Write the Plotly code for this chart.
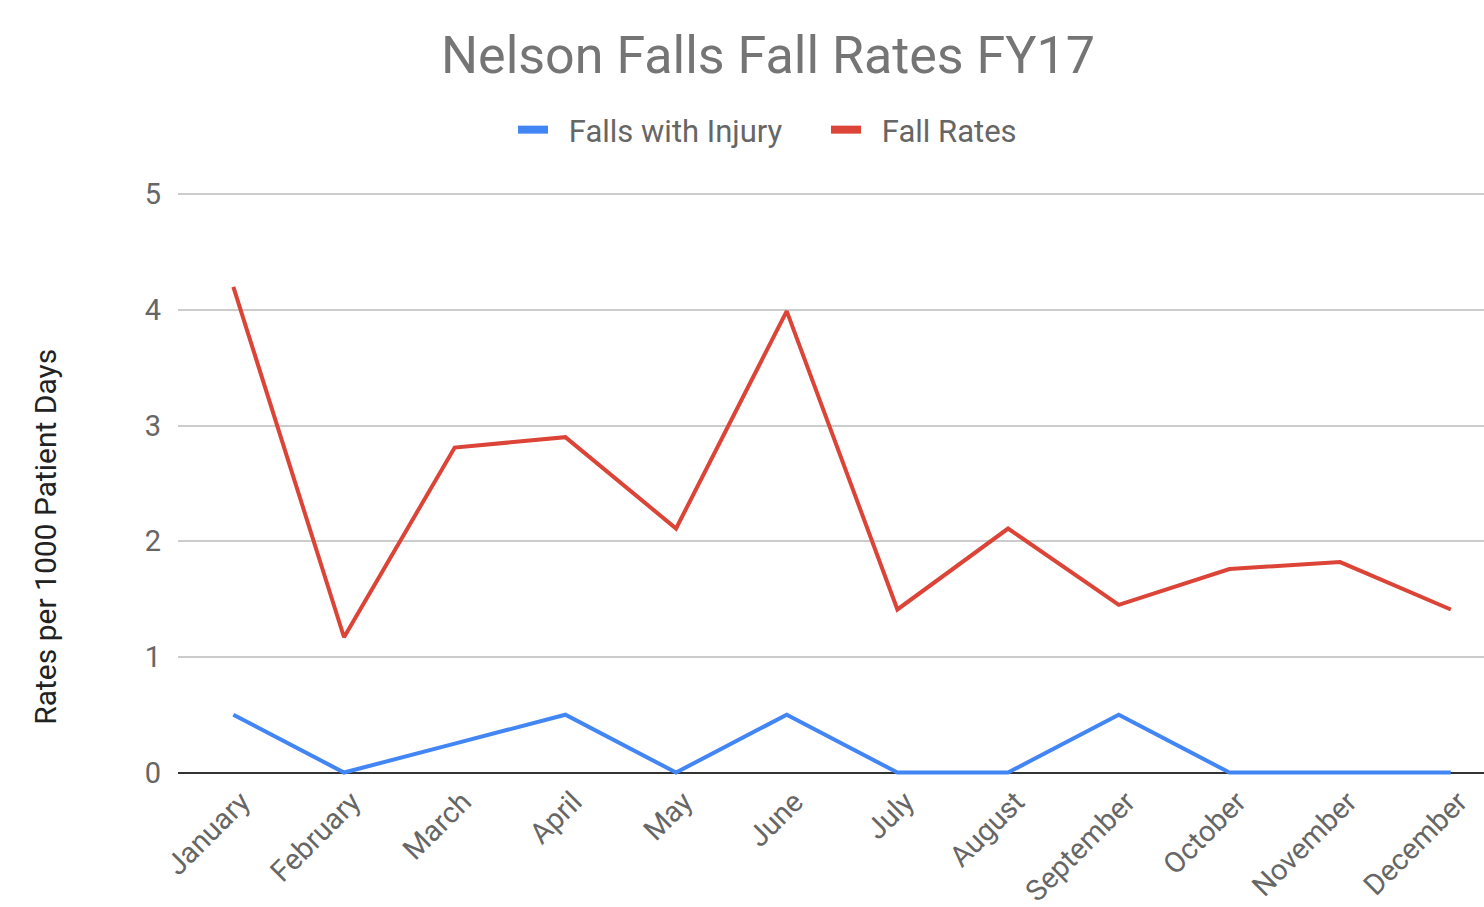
import plotly.graph_objects as go

months = ["January", "February", "March", "April", "May", "June", "July",
          "August", "September", "October", "November", "December"]
falls_with_injury = [0.5, 0.0, 0.25, 0.5, 0.0, 0.5, 0.0, 0.0, 0.5, 0.0, 0.0, 0.0]
fall_rates = [4.2, 1.17, 2.81, 2.9, 2.11, 3.99, 1.41, 2.11, 1.45, 1.76, 1.82, 1.41]

series_names = ["Falls with Injury", "Fall Rates"]
series_colors = ["#4285F4", "#DB4437"]

FONT = "Roboto, Arial, sans-serif"

fig = go.Figure()
for name, vals, col in zip(series_names, [falls_with_injury, fall_rates], series_colors):
    fig.add_trace(go.Scatter(x=months, y=vals, mode="lines", name=name,
                             showlegend=False, line=dict(color=col, width=4)))
# legend-only entries with thicker swatches (en space keeps a gap after the swatch)
for name, col in zip(series_names, series_colors):
    fig.add_trace(go.Scatter(x=[None], y=[None], mode="lines", name="\u2002" + name,
                             showlegend=True, line=dict(color=col, width=8)))

fig.update_layout(
    width=1484, height=907,
    margin=dict(l=178, r=0, t=192, b=131, autoexpand=False),
    paper_bgcolor="white", plot_bgcolor="white",
    font=dict(family=FONT, color="#757575"),
    title=dict(text="Nelson Falls Fall Rates FY17",
               font=dict(size=52, color="#757575", family=FONT),
               x=768/1484, xanchor="center", xref="container",
               y=1-55/907, yanchor="middle", yref="container"),
    legend=dict(orientation="h", x=513/1484, xanchor="left", xref="container",
                y=1-130/907, yanchor="middle", yref="container",
                font=dict(size=31, color="#666666", family=FONT),
                itemwidth=30, entrywidth=268, entrywidthmode="pixels"),
    showlegend=True,
    xaxis=dict(type="category", range=[-0.5, 11.3], showgrid=False,
               tickangle=-45, tickfont=dict(size=29, color="#666666"),
               ticks="", ticklabelstandoff=2, ticklabelshift=8,
               showline=False, zeroline=False, automargin=False),
    yaxis=dict(range=[-0.03, 5.02], tickvals=[0, 1, 2, 3, 4, 5],
               showgrid=True, gridcolor="#cccccc", gridwidth=2,
               zeroline=True, zerolinecolor="#333333", zerolinewidth=2,
               tickfont=dict(size=29, color="#666666"),
               ticks="", ticklabelstandoff=16, showline=False, automargin=False),
    annotations=[dict(text="Rates per 1000 Patient Days", textangle=-90,
                      xref="paper", yref="paper", x=-0.102, xanchor="center",
                      y=(907-131-537)/(907-192-131), yanchor="middle",
                      showarrow=False, font=dict(size=30, color="#222222", family=FONT))],
)

fig.write_html("out.html", config={"displayModeBar": False},
               post_script="document.body.style.margin='0';document.body.style.overflow='hidden';")
